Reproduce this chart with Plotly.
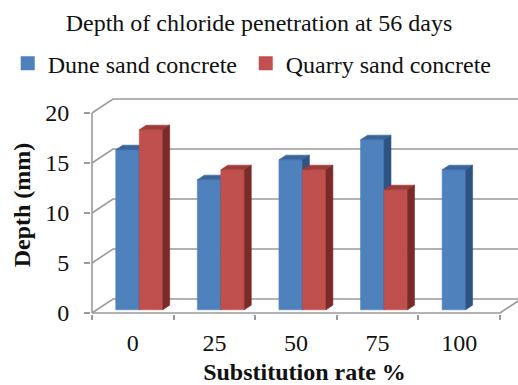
import plotly.graph_objects as go

# ---- data -------------------------------------------------------------
categories = ["0", "25", "50", "75", "100"]          # substitution rate %
dune_sand = [16, 13, 15, 17, 14]                      # depth, mm
quarry_sand = [18, 14, 14, 12, None]                  # depth, mm (no 100 % mix)
y_ticks = [0, 5, 10, 15, 20]

# ---- pseudo 3-D projection (in data units) ----------------------------
DEPTH_X, DEPTH_Y = 0.257, 1.4      # offset of the back wall from the front plane
BAR_Z0, BAR_Z1 = 0.23, 0.56        # slice of the depth occupied by the bars
BAR_W = 0.288                      # width of one bar
PAIR_SHIFT = 0.02

GRID = "#9a9a9a"
FONT = "Liberation Serif"
FS = 24
series = [
    ("Dune sand concrete", dune_sand, ("#4f81bd", "#3b649c", "#2e5283")),
    ("Quarry sand concrete", quarry_sand, ("#c0504d", "#9e3b38", "#7b2a28")),
]

n = len(categories)
x_left, x_right = -0.5, n - 0.5

fig = go.Figure()

# back wall, side wall and floor lines
gx, gy = [], []
for v in y_ticks:
    gx += [x_left, x_left + DEPTH_X, x_right + DEPTH_X, None]
    gy += [v, v + DEPTH_Y, v + DEPTH_Y, None]
gx += [x_left, x_right, x_right + DEPTH_X, None, x_left, x_left]
gy += [0, 0, DEPTH_Y, None, 0, max(y_ticks)]
fig.add_trace(go.Scatter(x=gx, y=gy, mode="lines", line=dict(color=GRID, width=1.6),
                         hoverinfo="skip", showlegend=False))

# bars: front, top and side faces
sx0, sy0 = BAR_Z0 * DEPTH_X, BAR_Z0 * DEPTH_Y
ddx, ddy = (BAR_Z1 - BAR_Z0) * DEPTH_X, (BAR_Z1 - BAR_Z0) * DEPTH_Y
for i in range(n):
    for k, (name, vals, (c_front, c_top, c_side)) in enumerate(series):
        v = vals[i]
        if v is None:
            continue
        x0 = i + PAIR_SHIFT + (k - 1) * BAR_W + sx0
        x1 = x0 + BAR_W
        b, t = sy0, sy0 + v
        faces = [
            ([x0, x1, x1, x0, x0], [b, b, t, t, b], c_front),
            ([x0, x1, x1 + ddx, x0 + ddx, x0], [t, t, t + ddy, t + ddy, t], c_top),
            ([x1, x1 + ddx, x1 + ddx, x1, x1], [b, b + ddy, t + ddy, t, b], c_side),
        ]
        for fx, fy, col in faces:
            fig.add_trace(go.Scatter(
                x=fx, y=fy, mode="lines", fill="toself", fillcolor=col,
                line=dict(color=col, width=0.6), legendgroup=name,
                showlegend=False, name=name,
                hovertemplate=f"{name}<br>{categories[i]} %: {v} mm<extra></extra>"))

# legend keys
for j, (name, vals, (c_front, _, _)) in enumerate(series):
    fig.add_trace(go.Scatter(x=[None], y=[None], mode="markers", name=name,
                             legendgroup=name, legendwidth=193 if j == 0 else None,
                             marker=dict(symbol="square", size=14, color=c_front)))

fig.update_layout(
    width=518, height=385,
    margin=dict(l=91, r=0, t=96, b=71),
    paper_bgcolor="white", plot_bgcolor="white",
    font=dict(family=FONT, size=FS, color="#111111"),
    title=dict(text="Depth of chloride penetration at 56 days",
               x=0.5, xref="container", xanchor="center",
               y=1 - 23 / 385, yref="container", yanchor="middle",
               font=dict(family=FONT, size=FS, color="#111111")),
    legend=dict(orientation="h", x=-0.195, xanchor="left",
                y=1.148, yanchor="middle",
                font=dict(family=FONT, size=FS, color="#111111"),
                itemsizing="trace", tracegroupgap=0, bgcolor="rgba(0,0,0,0)"),
    showlegend=True,
)
fig.update_xaxes(
    range=[-0.5123, 4.7205], tickmode="array", tickvals=list(range(n)),
    ticktext=categories, ticks="", showgrid=False, zeroline=False, showline=False,
    ticklabelstandoff=12,
    minor=dict(tickmode="array", tickvals=[i - 0.5 for i in range(n + 1)],
               ticks="outside", ticklen=5, tickcolor=GRID, tickwidth=1.6, showgrid=False),
    title=dict(text="<b>Substitution rate %</b>", standoff=8,
               font=dict(family=FONT, size=FS)),
)
fig.update_yaxes(
    range=[-0.1, 21.7], tickmode="array", tickvals=y_ticks,
    ticks="outside", ticklen=6, tickcolor=GRID, tickwidth=1.6,
    showgrid=False, zeroline=False, showline=False, ticklabelstandoff=10,
    title=dict(text="<b>Depth (mm)</b>", standoff=7,
               font=dict(family=FONT, size=FS)),
)

fig.write_html("out.html")
